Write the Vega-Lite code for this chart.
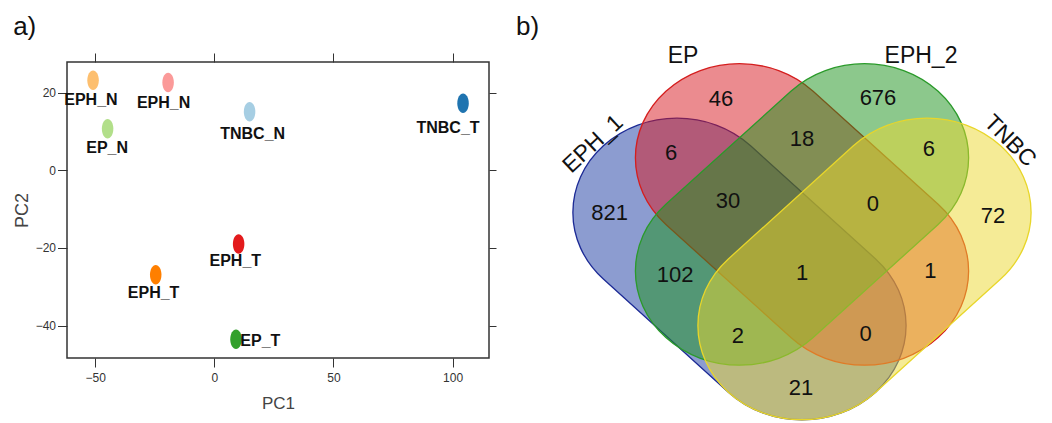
{
  "$schema": "https://vega.github.io/schema/vega-lite/v6.json",
  "background": "white",
  "padding": {"left": 12, "top": 12, "right": 5, "bottom": 0},
  "bounds": "flush",
  "spacing": 27,
  "config": {
    "font": "Liberation Sans",
    "axis": {"domain": false, "grid": false, "tickColor": "#333333", "tickWidth": 1, "labelColor": "#333333", "titleColor": "#444444", "labelFont": "Liberation Sans", "titleFont": "Liberation Sans", "labelFontSize": 12, "titleFontWeight": "normal"}
  },
  "datasets": {
    "pca": [
      {"id": "EPH1_N", "label": "EPH_N", "pc1": -50.9, "pc2": 23.2, "lx": -51.8, "ly": 18.0},
      {"id": "EPH2_N", "label": "EPH_N", "pc1": -19.4, "pc2": 22.6, "lx": -21.3, "ly": 17.4},
      {"id": "EP_N", "label": "EP_N", "pc1": -44.8, "pc2": 10.7, "lx": -45.0, "ly": 5.8},
      {"id": "TNBC_N", "label": "TNBC_N", "pc1": 14.8, "pc2": 15.1, "lx": 16.1, "ly": 9.3},
      {"id": "TNBC_T", "label": "TNBC_T", "pc1": 104.4, "pc2": 17.3, "lx": 98.1, "ly": 10.8},
      {"id": "EPH2_T", "label": "EPH_T", "pc1": 10.2, "pc2": -19.0, "lx": 8.8, "ly": -23.4},
      {"id": "EPH1_T", "label": "EPH_T", "pc1": -24.6, "pc2": -26.9, "lx": -25.5, "ly": -31.6},
      {"id": "EP_T", "label": "EP_T", "pc1": 9.1, "pc2": -43.5, "lx": 19.3, "ly": -44.1}
    ],
    "sets": [
      {"set": "EPH_1", "x": 0.4185, "y": 0.4202},
      {"set": "EP", "x": 0.5356, "y": 0.5731},
      {"set": "EPH_2", "x": 0.5356, "y": 0.5731},
      {"set": "TNBC", "x": 0.6526, "y": 0.4202}
    ],
    "regions": [
      {"region": "EPH_1", "n": 821, "x": 0.1755, "y": 0.5779},
      {"region": "EP", "n": 46, "x": 0.3839, "y": 0.8964},
      {"region": "EPH_2", "n": 676, "x": 0.6779, "y": 0.8992},
      {"region": "TNBC", "n": 72, "x": 0.8933, "y": 0.5686},
      {"region": "EPH_1&EP", "n": 6, "x": 0.2903, "y": 0.7451},
      {"region": "EP&EPH_2", "n": 18, "x": 0.5356, "y": 0.7843},
      {"region": "EPH_2&TNBC", "n": 6, "x": 0.7734, "y": 0.7563},
      {"region": "EPH_1&EP&EPH_2", "n": 30, "x": 0.3970, "y": 0.6106},
      {"region": "EP&EPH_2&TNBC", "n": 0, "x": 0.6685, "y": 0.6022},
      {"region": "EPH_1&EPH_2", "n": 102, "x": 0.2978, "y": 0.4034},
      {"region": "all", "n": 1, "x": 0.5356, "y": 0.4090},
      {"region": "EP&TNBC", "n": 1, "x": 0.7762, "y": 0.4146},
      {"region": "EPH_1&EPH_2&TNBC", "n": 2, "x": 0.4157, "y": 0.2325},
      {"region": "EPH_1&EP&TNBC", "n": 0, "x": 0.6545, "y": 0.2381},
      {"region": "EPH_1&TNBC", "n": 21, "x": 0.5338, "y": 0.0868}
    ],
    "setlabels": [
      {"set": "EPH_1", "x": 0.1442, "y": 0.7703},
      {"set": "EP", "x": 0.3127, "y": 1.0168},
      {"set": "EPH_2", "x": 0.7584, "y": 1.0168},
      {"set": "TNBC", "x": 0.9251, "y": 0.7787}
    ]
  },
  "hconcat": [
    {
      "width": 422,
      "height": 296,
      "title": {"text": "a)", "anchor": "start", "frame": "bounds", "fontSize": 26, "fontWeight": "normal", "font": "Liberation Sans", "color": "#111111", "offset": -8, "baseline": "alphabetic"},
      "view": {"stroke": "#333333", "strokeWidth": 1.5},
      "data": {"name": "pca"},
      "layer": [
        {
          "layer": [
            {
              "mark": {"type": "point", "filled": true, "opacity": 1, "size": 380, "shape": "M0,-1C0.326,-1 0.59,-0.552 0.59,0C0.59,0.552 0.326,1 0,1C-0.326,1 -0.59,0.552 -0.59,0C-0.59,-0.552 -0.326,-1 0,-1Z"},
              "encoding": {
                "x": {"field": "pc1", "type": "quantitative", "scale": {"domain": [-61.84, 115.3], "nice": false, "zero": false}, "axis": {"title": "PC1", "values": [-50, 0, 50, 100], "tickSize": 9, "labelPadding": 5, "titleFontSize": 17, "titlePadding": 12}},
                "y": {"field": "pc2", "type": "quantitative", "scale": {"domain": [-48.36, 27.9], "nice": false, "zero": false}, "axis": {"title": "PC2", "values": [-40, -20, 0, 20], "tickSize": 9.5, "labelPadding": 2, "titleFontSize": 18, "titlePadding": 4}},
                "color": {"field": "id", "type": "nominal", "legend": null, "scale": {"domain": ["EPH1_N", "EPH2_N", "EP_N", "TNBC_N", "TNBC_T", "EPH2_T", "EPH1_T", "EP_T"], "range": ["#FDBF6F", "#FB9A99", "#B2DF8A", "#A6CEE3", "#1F74B0", "#E31A1C", "#FF7F00", "#33A02C"]}}
              }
            },
            {
              "mark": {"type": "text", "font": "Liberation Sans", "fontWeight": "bold", "fontSize": 16, "color": "#111111", "baseline": "middle", "align": "center"},
              "encoding": {
                "x": {"field": "lx", "type": "quantitative", "axis": {"title": "PC1"}},
                "y": {"field": "ly", "type": "quantitative", "axis": {"title": "PC2"}},
                "text": {"field": "label"}
              }
            }
          ]
        },
        {
          "mark": {"type": "point", "opacity": 0},
          "encoding": {
            "x": {"field": "pc1", "type": "quantitative", "axis": {"orient": "top", "labels": false, "title": null, "values": [-50, 0, 50, 100], "tickSize": 9}},
            "y": {"field": "pc2", "type": "quantitative", "axis": {"orient": "right", "labels": false, "title": null, "values": [-40, -20, 0, 20], "tickSize": 7}}
          }
        }
      ],
      "resolve": {"axis": {"x": "independent", "y": "independent"}}
    },
    {
      "width": 534,
      "height": 357,
      "title": {"text": "b)", "anchor": "start", "frame": "bounds", "fontSize": 26, "fontWeight": "normal", "font": "Liberation Sans", "color": "#111111", "offset": -16, "baseline": "alphabetic"},
      "view": {"stroke": null},
      "layer": [
        {
          "data": {"name": "sets"},
          "transform": [{"filter": {"field": "set", "oneOf": ["EPH_1", "EP"]}}],
          "mark": {"type": "point", "filled": true, "opacity": 1, "fillOpacity": 0.5, "strokeOpacity": 1, "strokeWidth": 1.3, "size": 121383, "shape": "M0.0638,-0.7071L0.7814,-0.0577C1.0147,0.1535 1.0147,0.4959 0.7814,0.7071C0.548,0.9183 0.1696,0.9183 -0.0638,0.7071L-0.7814,0.0577C-1.0147,-0.1535 -1.0147,-0.4959 -0.7814,-0.7071C-0.548,-0.9183 -0.1696,-0.9183 0.0638,-0.7071Z"},
          "encoding": {
            "x": {"field": "x", "type": "quantitative", "scale": {"domain": [0, 1], "nice": false, "zero": false}, "axis": null},
            "y": {"field": "y", "type": "quantitative", "scale": {"domain": [0, 1], "nice": false, "zero": false}, "axis": null},
            "fill": {"field": "set", "type": "nominal", "legend": null, "scale": {"domain": ["EPH_1", "EP", "EPH_2", "TNBC"], "range": ["#1A3AA2", "#D8181F", "#19911A", "#EBD72D"]}},
            "stroke": {"field": "set", "type": "nominal", "legend": null, "scale": {"domain": ["EPH_1", "EP", "EPH_2", "TNBC"], "range": ["#1C2A95", "#D41E1E", "#2A9A2A", "#E8D62A"]}}
          }
        },
        {
          "data": {"name": "sets"},
          "transform": [{"filter": {"field": "set", "oneOf": ["EPH_2", "TNBC"]}}],
          "mark": {"type": "point", "filled": true, "opacity": 1, "fillOpacity": 0.5, "strokeOpacity": 1, "strokeWidth": 1.3, "size": 121383, "shape": "M-0.0638,-0.7071L-0.7814,-0.0577C-1.0147,0.1535 -1.0147,0.4959 -0.7814,0.7071C-0.548,0.9183 -0.1696,0.9183 0.0638,0.7071L0.7814,0.0577C1.0147,-0.1535 1.0147,-0.4959 0.7814,-0.7071C0.548,-0.9183 0.1696,-0.9183 -0.0638,-0.7071Z"},
          "encoding": {
            "x": {"field": "x", "type": "quantitative", "axis": null},
            "y": {"field": "y", "type": "quantitative", "axis": null},
            "fill": {"field": "set", "type": "nominal", "legend": null},
            "stroke": {"field": "set", "type": "nominal", "legend": null}
          }
        },
        {
          "data": {"name": "regions"},
          "mark": {"type": "text", "font": "Liberation Sans", "fontSize": 22, "color": "#111111", "baseline": "middle", "align": "center"},
          "encoding": {
            "x": {"field": "x", "type": "quantitative", "axis": null},
            "y": {"field": "y", "type": "quantitative", "axis": null},
            "text": {"field": "n", "type": "quantitative"}
          }
        },
        {
          "data": {"name": "setlabels"},
          "transform": [{"filter": {"field": "set", "oneOf": ["EP", "EPH_2"]}}],
          "mark": {"type": "text", "font": "Liberation Sans", "fontSize": 23, "color": "#111111", "baseline": "middle", "align": "center"},
          "encoding": {
            "x": {"field": "x", "type": "quantitative", "axis": null},
            "y": {"field": "y", "type": "quantitative", "axis": null},
            "text": {"field": "set"}
          }
        },
        {
          "data": {"name": "setlabels"},
          "transform": [{"filter": {"field": "set", "equal": "EPH_1"}}],
          "mark": {"type": "text", "font": "Liberation Sans", "fontSize": 23, "color": "#111111", "baseline": "middle", "align": "center", "angle": -43},
          "encoding": {
            "x": {"field": "x", "type": "quantitative", "axis": null},
            "y": {"field": "y", "type": "quantitative", "axis": null},
            "text": {"field": "set"}
          }
        },
        {
          "data": {"name": "setlabels"},
          "transform": [{"filter": {"field": "set", "equal": "TNBC"}}],
          "mark": {"type": "text", "font": "Liberation Sans", "fontSize": 23, "color": "#111111", "baseline": "middle", "align": "center", "angle": 45},
          "encoding": {
            "x": {"field": "x", "type": "quantitative", "axis": null},
            "y": {"field": "y", "type": "quantitative", "axis": null},
            "text": {"field": "set"}
          }
        }
      ]
    }
  ]
}
